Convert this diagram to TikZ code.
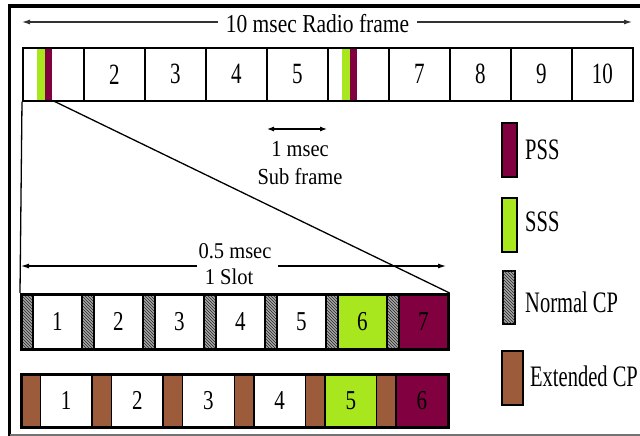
\documentclass[tikz,border=0pt]{standalone}
\usepackage{fontspec}
\setmainfont{Liberation Serif}
\usepackage{graphicx}
\usetikzlibrary{patterns,arrows.meta}

\definecolor{pssred}{RGB}{128,0,64}
\definecolor{sssgreen}{RGB}{168,230,29}
\definecolor{extbrown}{RGB}{156,92,60}
\definecolor{cpgray}{RGB}{165,165,165}

% vertically stretched text for the labels
\newcommand{\stretchy}[2]{\scalebox{1}[#1]{#2}}

\begin{document}
\begin{tikzpicture}[x=1pt, y=-1pt,
  every node/.style={inner sep=0pt},
  framecell/.style={draw, line width=1.6pt, minimum width=61pt, minimum height=53pt, anchor=north west},
  strip/.style={minimum height=53pt, anchor=north west},
  block/.style={draw, line width=1.6pt, anchor=north west, minimum height=#1},
  ncp/.style={fill=cpgray, postaction={pattern=north west lines, pattern color=black!85}},
  ecp/.style={fill=extbrown},
  rowbox/.style={draw, line width=2.6pt, anchor=north west, minimum width=427pt},
  digit/.style={font=\fontsize{21}{21}\selectfont},
  lbl/.style={font=\fontsize{20.5}{28}\selectfont},
  legbox/.style={draw, line width=1.6pt, anchor=north west},
  tip/.style={-{Latex[length=8pt,width=5pt]}, line width=1.1pt},
  twotip/.style={{Latex[length=7pt,width=5pt]}-{Latex[length=7pt,width=5pt]}, line width=1.1pt},
]
\useasboundingbox (0,0) rectangle (640,436);
\fill[white] (0,0) rectangle (640,436);

% outer frame
\draw[line width=3.5pt] (9.5,440) -- (9.5,6) -- (650,6);
\draw[line width=2pt, black!55] (9.5,434.5) -- (650,434.5);

% synchronisation signals inside subframes 1 and 6
\foreach \s/\x in {1/22,6/327} {
  \node[strip, fill=sssgreen, minimum width=8pt] (sss\s) at ({\x+15},47) {};
  \node[strip, fill=pssred, minimum width=7pt] (pss\s) at ({\x+23},47) {};
}

% radio frame: ten subframes
\foreach \i/\t in {1/,2/2,3/3,4/4,5/5,6/,7/7,8/8,9/9,10/10}
  \node[framecell, digit] (f\i) at ({22+(\i-1)*61},47) {\stretchy{1.4}{\t}};

% radio frame length
\node[font=\fontsize{21.5}{24}\selectfont, inner xsep=8pt] (title) at (317.5,24) {\stretchy{1.2}{10 msec Radio frame}};
\coordinate (rfL) at (22,22);
\coordinate (rfR) at (632,22);
\draw[tip, black!80] (title.west |- rfL) -- (rfL);
\draw[tip, black!80] (title.east |- rfR) -- (rfR);

% subframe length
\coordinate (msA) at (267,129);
\coordinate (msB) at (327,129);
\draw[twotip] (msA) -- (msB);
\node[lbl, align=center] (sub) at (300,163) {\stretchy{1.12}{1 msec}\\\stretchy{1.12}{Sub frame}};

% slot length
\node[lbl] (slotA) at (235,251) {\stretchy{1.1}{0.5 msec}};
\node[lbl] (slotB) at (229,277) {\stretchy{1.1}{1 Slot}};
\coordinate (slL) at (21,266);
\coordinate (slR) at (446,266);
\coordinate (gapL) at (197,266);
\coordinate (gapR) at (278,266);
\draw[tip] (gapL) -- (slL);
\draw[tip] (gapR) -- (slR);

% slot with normal cyclic prefix: 7 symbols
\foreach \k in {0,...,6}
  \node[block=55pt, ncp, minimum width=12pt] (ncp\k) at ({20+61*\k},293) {};
\foreach \k/\t/\c in {0/1/white,1/2/white,2/3/white,3/4/white,4/5/white,5/6/sssgreen,6/7/pssred}
  \node[block=55pt, fill=\c, minimum width=49pt, digit] (nsym\k) at ({32+61*\k},293) {\stretchy{1.3}{\t}};
\node[rowbox, minimum height=55pt] (rowN) at (20,293) {};

% slot with extended cyclic prefix: 6 symbols
\foreach \k in {0,...,5}
  \node[block=53pt, ecp, minimum width=19.5pt] (ecp\k) at ({20+71.17*\k},373) {};
\foreach \k/\t/\c in {0/1/white,1/2/white,2/3/white,3/4/white,4/5/sssgreen,5/6/pssred}
  \node[block=53pt, fill=\c, minimum width=51.67pt, digit] (esym\k) at ({39.5+71.17*\k},373) {\stretchy{1.3}{\t}};
\node[rowbox, minimum height=53pt] (rowE) at (20,373) {};

% zoom lines from subframe 1 down to the slot
\draw[line width=1.3pt] (f1.south west) -- (rowN.north west);
\draw[line width=1.3pt] (pss1.south east) -- (rowN.north east);

% legend
\node[legbox, fill=pssred, minimum width=15pt, minimum height=54pt] (lgP) at (501,122) {};
\node[lbl, anchor=west] (lgPt) at (525,150) {\stretchy{1.45}{PSS}};
\node[legbox, fill=sssgreen, minimum width=15pt, minimum height=54pt] (lgS) at (501,197) {};
\node[lbl, anchor=west] (lgSt) at (525,222) {\stretchy{1.45}{SSS}};
\node[legbox, ncp, minimum width=12pt, minimum height=53pt] (lgN) at (502,270) {};
\node[lbl, anchor=west] (lgNt) at (525,302) {\stretchy{1.45}{Normal CP}};
\node[legbox, ecp, minimum width=21pt, minimum height=54pt] (lgE) at (501,350) {};
\node[lbl, anchor=west] (lgEt) at (530,376) {\stretchy{1.45}{Extended CP}};
\end{tikzpicture}
\end{document}
